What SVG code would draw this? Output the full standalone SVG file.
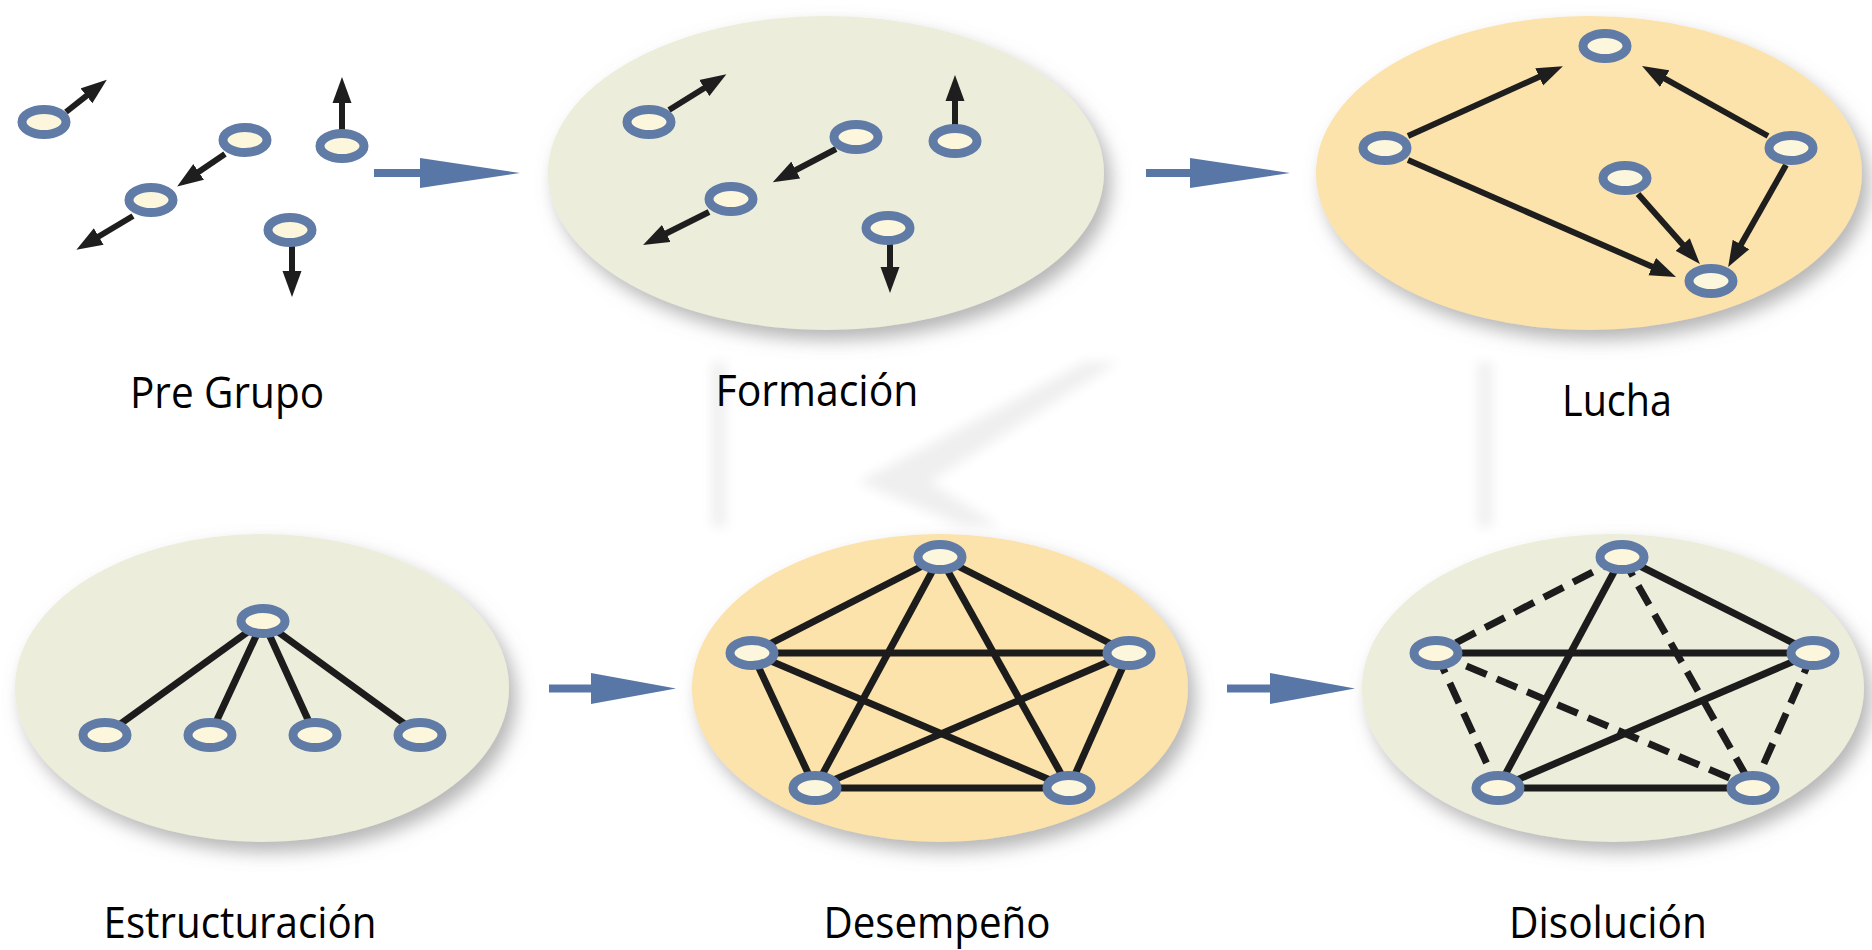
<svg xmlns="http://www.w3.org/2000/svg" width="1872" height="950" viewBox="0 0 1872 950">
<style>
.bg-green{fill:#ecedda}
.bg-orange{fill:#fce2ab}
.ring{fill:#fcf7dc;stroke:#5f7ba6;stroke-width:9}
.arr{stroke:#1e1e1e;stroke-width:6;fill:none;marker-end:url(#head)}
.edge{stroke:#1c1c1c;stroke-width:7;fill:none}
.dash{stroke:#1c1c1c;stroke-width:7;fill:none;stroke-dasharray:22 11}
.blue{fill:#5877a6}
.lbl{font-family:'Open Sans','Noto Sans',sans-serif;font-size:43px;fill:#000;text-anchor:middle}
.wm{fill:#efefef}
</style>
<defs>
<marker id="head" viewBox="0 -10 28 20" markerWidth="28" markerHeight="20" refX="2" refY="0" orient="auto" markerUnits="userSpaceOnUse">
<path d="M0,-9.5 L26,0 L0,9.5 Z" fill="#1e1e1e"/>
</marker>
<filter id="shadow" x="-20%" y="-20%" width="150%" height="150%">
<feDropShadow dx="7" dy="10" stdDeviation="9" flood-color="#7a7a7a" flood-opacity="0.55"/>
</filter>
<filter id="soft" x="-50%" y="-50%" width="200%" height="200%">
<feGaussianBlur stdDeviation="6"/>
</filter>
</defs>
<rect width="1872" height="950" fill="#ffffff"/>
<g id="watermark" filter="url(#soft)">
<polygon class="wm" points="1085,362 1118,362 930,482 1000,526 962,526 858,482"/>
<rect class="wm" x="712" y="362" width="14" height="165"/>
<rect class="wm" x="1478" y="362" width="14" height="165"/>
</g>

<g id="stage-formacion-bg"><ellipse class="bg-green" cx="826" cy="173" rx="278" ry="157" filter="url(#shadow)"/></g>
<g id="stage-lucha-bg"><ellipse class="bg-orange" cx="1589" cy="173" rx="273" ry="157" filter="url(#shadow)"/></g>
<g id="stage-estructuracion-bg"><ellipse class="bg-green" cx="262" cy="688" rx="247" ry="154" filter="url(#shadow)"/></g>
<g id="stage-desempeno-bg"><ellipse class="bg-orange" cx="940" cy="688" rx="248" ry="154" filter="url(#shadow)"/></g>
<g id="stage-disolucion-bg"><ellipse class="bg-green" cx="1613" cy="688" rx="251" ry="154" filter="url(#shadow)"/></g>

<g id="connectors">
<g id="flow-arrows">
<rect class="blue" x="374" y="169" width="50" height="8"/><polygon class="blue" points="420,158 520,173 420,188"/>
<rect class="blue" x="1146" y="169" width="48" height="8"/><polygon class="blue" points="1190,158 1290,173 1190,188"/>
<rect class="blue" x="549" y="684.5" width="46" height="8"/><polygon class="blue" points="591,673 676,688.5 591,704"/>
<rect class="blue" x="1227" y="684.5" width="47" height="8"/><polygon class="blue" points="1270,673 1355,688.5 1270,704"/>
</g>
<!-- Pre Grupo -->
<line class="arr" x1="66" y1="112" x2="88" y2="94.6"/>
<line class="arr" x1="342" y1="134" x2="342" y2="101"/>
<line class="arr" x1="225" y1="154" x2="197" y2="173"/>
<line class="arr" x1="133" y1="216" x2="97" y2="237.5"/>
<line class="arr" x1="292" y1="246" x2="292" y2="273"/>
<!-- Formacion -->
<line class="arr" x1="669" y1="110" x2="706" y2="87"/>
<line class="arr" x1="955" y1="127" x2="955" y2="99"/>
<line class="arr" x1="836" y1="149" x2="794" y2="171"/>
<line class="arr" x1="709" y1="212" x2="664.5" y2="234.3"/>
<line class="arr" x1="890" y1="243" x2="890" y2="269"/>
<!-- Lucha -->
<line class="arr" x1="1408" y1="136" x2="1541" y2="76"/>
<line class="arr" x1="1768" y1="136" x2="1663" y2="77.7"/>
<line class="arr" x1="1408" y1="160" x2="1654" y2="267.4"/>
<line class="arr" x1="1638" y1="194" x2="1684" y2="246"/>
<line class="arr" x1="1786" y1="165" x2="1740" y2="246.2"/>
<!-- Estructuracion -->
<line class="edge" x1="263" y1="621" x2="105" y2="735"/>
<line class="edge" x1="263" y1="621" x2="210" y2="735"/>
<line class="edge" x1="263" y1="621" x2="315" y2="735"/>
<line class="edge" x1="263" y1="621" x2="420" y2="735"/>
<!-- Desempeno -->
<line class="edge" x1="940" y1="557" x2="752" y2="653"/>
<line class="edge" x1="940" y1="557" x2="1129" y2="653"/>
<line class="edge" x1="940" y1="557" x2="815" y2="788"/>
<line class="edge" x1="940" y1="557" x2="1069" y2="788"/>
<line class="edge" x1="752" y1="653" x2="1129" y2="653"/>
<line class="edge" x1="752" y1="653" x2="815" y2="788"/>
<line class="edge" x1="752" y1="653" x2="1069" y2="788"/>
<line class="edge" x1="1129" y1="653" x2="815" y2="788"/>
<line class="edge" x1="1129" y1="653" x2="1069" y2="788"/>
<line class="edge" x1="815" y1="788" x2="1069" y2="788"/>
<!-- Disolucion -->
<line class="dash" x1="1622" y1="557" x2="1436" y2="653"/>
<line class="edge" x1="1622" y1="557" x2="1813" y2="653"/>
<line class="edge" x1="1622" y1="557" x2="1498" y2="788"/>
<line class="dash" x1="1622" y1="557" x2="1753" y2="788"/>
<line class="edge" x1="1436" y1="653" x2="1813" y2="653"/>
<line class="dash" x1="1436" y1="653" x2="1498" y2="788"/>
<line class="dash" x1="1436" y1="653" x2="1753" y2="788"/>
<line class="edge" x1="1813" y1="653" x2="1498" y2="788"/>
<line class="dash" x1="1813" y1="653" x2="1753" y2="788"/>
<line class="edge" x1="1498" y1="788" x2="1753" y2="788"/>
</g>

<g id="pregrupo-nodes">
<g id="pg-a"><ellipse class="ring" cx="44" cy="122" rx="22" ry="12.5"/></g>
<g id="pg-b"><ellipse class="ring" cx="245" cy="140" rx="22" ry="12.5"/></g>
<g id="pg-c"><ellipse class="ring" cx="342" cy="146" rx="22" ry="12.5"/></g>
<g id="pg-d"><ellipse class="ring" cx="151" cy="200" rx="22" ry="12.5"/></g>
<g id="pg-e"><ellipse class="ring" cx="290" cy="230" rx="22" ry="12.5"/></g>
</g>
<g id="formacion-nodes">
<g id="fo-a"><ellipse class="ring" cx="649" cy="122" rx="22" ry="12.5"/></g>
<g id="fo-b"><ellipse class="ring" cx="856" cy="137" rx="22" ry="12.5"/></g>
<g id="fo-c"><ellipse class="ring" cx="955" cy="141" rx="22" ry="12.5"/></g>
<g id="fo-d"><ellipse class="ring" cx="731" cy="199" rx="22" ry="12.5"/></g>
<g id="fo-e"><ellipse class="ring" cx="888" cy="228" rx="22" ry="12.5"/></g>
</g>
<g id="lucha-nodes">
<g id="lu-top"><ellipse class="ring" cx="1605" cy="46" rx="22" ry="12.5"/></g>
<g id="lu-left"><ellipse class="ring" cx="1385" cy="148" rx="22" ry="12.5"/></g>
<g id="lu-right"><ellipse class="ring" cx="1791" cy="148" rx="22" ry="12.5"/></g>
<g id="lu-mid"><ellipse class="ring" cx="1625" cy="178" rx="22" ry="12.5"/></g>
<g id="lu-bottom"><ellipse class="ring" cx="1711" cy="281" rx="22" ry="12.5"/></g>
</g>
<g id="estructuracion-nodes">
<g id="es-top"><ellipse class="ring" cx="263" cy="621" rx="22" ry="12.5"/></g>
<g id="es-1"><ellipse class="ring" cx="105" cy="735" rx="22" ry="12.5"/></g>
<g id="es-2"><ellipse class="ring" cx="210" cy="735" rx="22" ry="12.5"/></g>
<g id="es-3"><ellipse class="ring" cx="315" cy="735" rx="22" ry="12.5"/></g>
<g id="es-4"><ellipse class="ring" cx="420" cy="735" rx="22" ry="12.5"/></g>
</g>
<g id="desempeno-nodes">
<g id="de-top"><ellipse class="ring" cx="940" cy="557" rx="22" ry="12.5"/></g>
<g id="de-left"><ellipse class="ring" cx="752" cy="653" rx="22" ry="12.5"/></g>
<g id="de-right"><ellipse class="ring" cx="1129" cy="653" rx="22" ry="12.5"/></g>
<g id="de-bl"><ellipse class="ring" cx="815" cy="788" rx="22" ry="12.5"/></g>
<g id="de-br"><ellipse class="ring" cx="1069" cy="788" rx="22" ry="12.5"/></g>
</g>
<g id="disolucion-nodes">
<g id="di-top"><ellipse class="ring" cx="1622" cy="557" rx="22" ry="12.5"/></g>
<g id="di-left"><ellipse class="ring" cx="1436" cy="653" rx="22" ry="12.5"/></g>
<g id="di-right"><ellipse class="ring" cx="1813" cy="653" rx="22" ry="12.5"/></g>
<g id="di-bl"><ellipse class="ring" cx="1498" cy="788" rx="22" ry="12.5"/></g>
<g id="di-br"><ellipse class="ring" cx="1753" cy="788" rx="22" ry="12.5"/></g>
</g>

<g id="labels">
<text class="lbl" x="227" y="408" textLength="194" lengthAdjust="spacingAndGlyphs">Pre Grupo</text>
<text class="lbl" x="817" y="406" textLength="203" lengthAdjust="spacingAndGlyphs">Formación</text>
<text class="lbl" x="1617" y="416" textLength="110" lengthAdjust="spacingAndGlyphs">Lucha</text>
<text class="lbl" x="240" y="938" textLength="273" lengthAdjust="spacingAndGlyphs">Estructuración</text>
<text class="lbl" x="937" y="938" textLength="227" lengthAdjust="spacingAndGlyphs">Desempeño</text>
<text class="lbl" x="1608" y="938" textLength="198" lengthAdjust="spacingAndGlyphs">Disolución</text>
</g>
</svg>
